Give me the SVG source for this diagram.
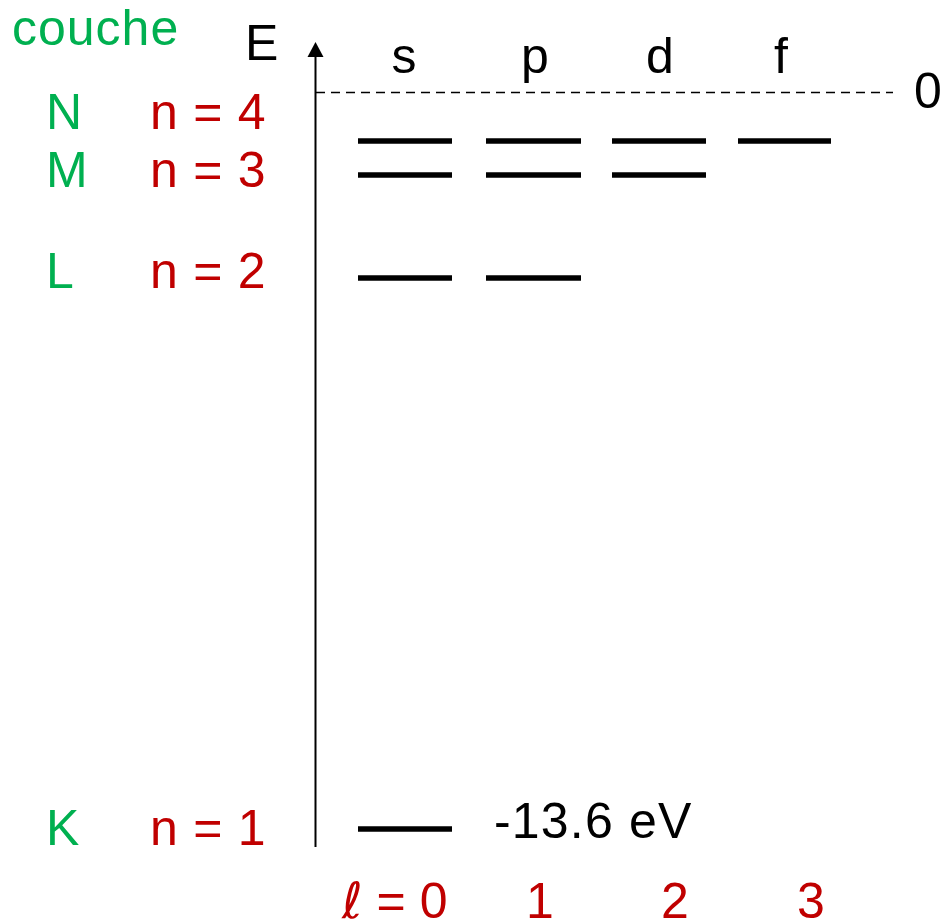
<svg xmlns="http://www.w3.org/2000/svg" width="942" height="922" viewBox="0 0 942 922">
<defs>
<style>
text{font-family:"Liberation Sans",Arial,sans-serif;font-size:50px}
.g{fill:#00b050}
.r{fill:#c00000}
.k{fill:#000}
.lv{stroke:#000;stroke-width:5.5;fill:none}
</style>
</defs>
<rect width="942" height="922" fill="#fff"/>
<g id="axes">
<line x1="315.5" y1="847" x2="315.5" y2="55" stroke="#000" stroke-width="2"/>
<polygon points="315.5,42 323.5,57 307.5,57" fill="#000"/>
<line x1="316" y1="92.5" x2="893" y2="92.5" stroke="#000" stroke-width="1.6" stroke-dasharray="9,6"/>
</g>
<g id="labels-shell">
<text class="g" x="12" y="45" font-size="52" letter-spacing="1">couche</text>
<text class="g" x="46" y="129" font-size="54">N</text>
<text class="g" x="46" y="187" font-size="54">M</text>
<text class="g" x="46" y="288" font-size="54">L</text>
<text class="g" x="46" y="845" font-size="54">K</text>
<text class="r" x="150" y="129" font-size="55" word-spacing="1.5">n = 4</text>
<text class="r" x="150" y="187" font-size="55" word-spacing="1.5">n = 3</text>
<text class="r" x="150" y="288" font-size="55" word-spacing="1.5">n = 2</text>
<text class="r" x="150" y="845" font-size="55" word-spacing="1.5">n = 1</text>
</g>
<g id="labels-top">
<text class="k" x="245" y="60" font-size="52">E</text>
<text class="k" x="404" y="73" text-anchor="middle">s</text>
<text class="k" x="535" y="73" text-anchor="middle">p</text>
<text class="k" x="660" y="73" text-anchor="middle">d</text>
<text class="k" x="781" y="73" text-anchor="middle">f</text>
<text class="k" x="914" y="108" font-size="52">0</text>
</g>
<g id="levels">
<line class="lv" x1="358" y1="141" x2="452" y2="141"/>
<line class="lv" x1="486" y1="141" x2="581" y2="141"/>
<line class="lv" x1="612" y1="141" x2="706" y2="141"/>
<line class="lv" x1="738" y1="141" x2="831" y2="141"/>
<line class="lv" x1="358" y1="175" x2="452" y2="175"/>
<line class="lv" x1="486" y1="175" x2="581" y2="175"/>
<line class="lv" x1="612" y1="175" x2="706" y2="175"/>
<line class="lv" x1="358" y1="278" x2="452" y2="278"/>
<line class="lv" x1="486" y1="278" x2="581" y2="278"/>
<line class="lv" x1="358" y1="829" x2="452" y2="829"/>
<text class="k" x="494" y="838" font-size="55" letter-spacing="1.2">-13.6 eV</text>
</g>
<g id="labels-l">
<text class="r" x="342" y="918" font-size="53"><tspan font-family="DejaVu Sans" font-style="italic" font-size="50">ℓ</tspan> = 0</text>
<text class="r" x="540" y="918" text-anchor="middle" font-size="53">1</text>
<text class="r" x="675" y="918" text-anchor="middle" font-size="53">2</text>
<text class="r" x="811" y="918" text-anchor="middle" font-size="53">3</text>
</g>
</svg>
